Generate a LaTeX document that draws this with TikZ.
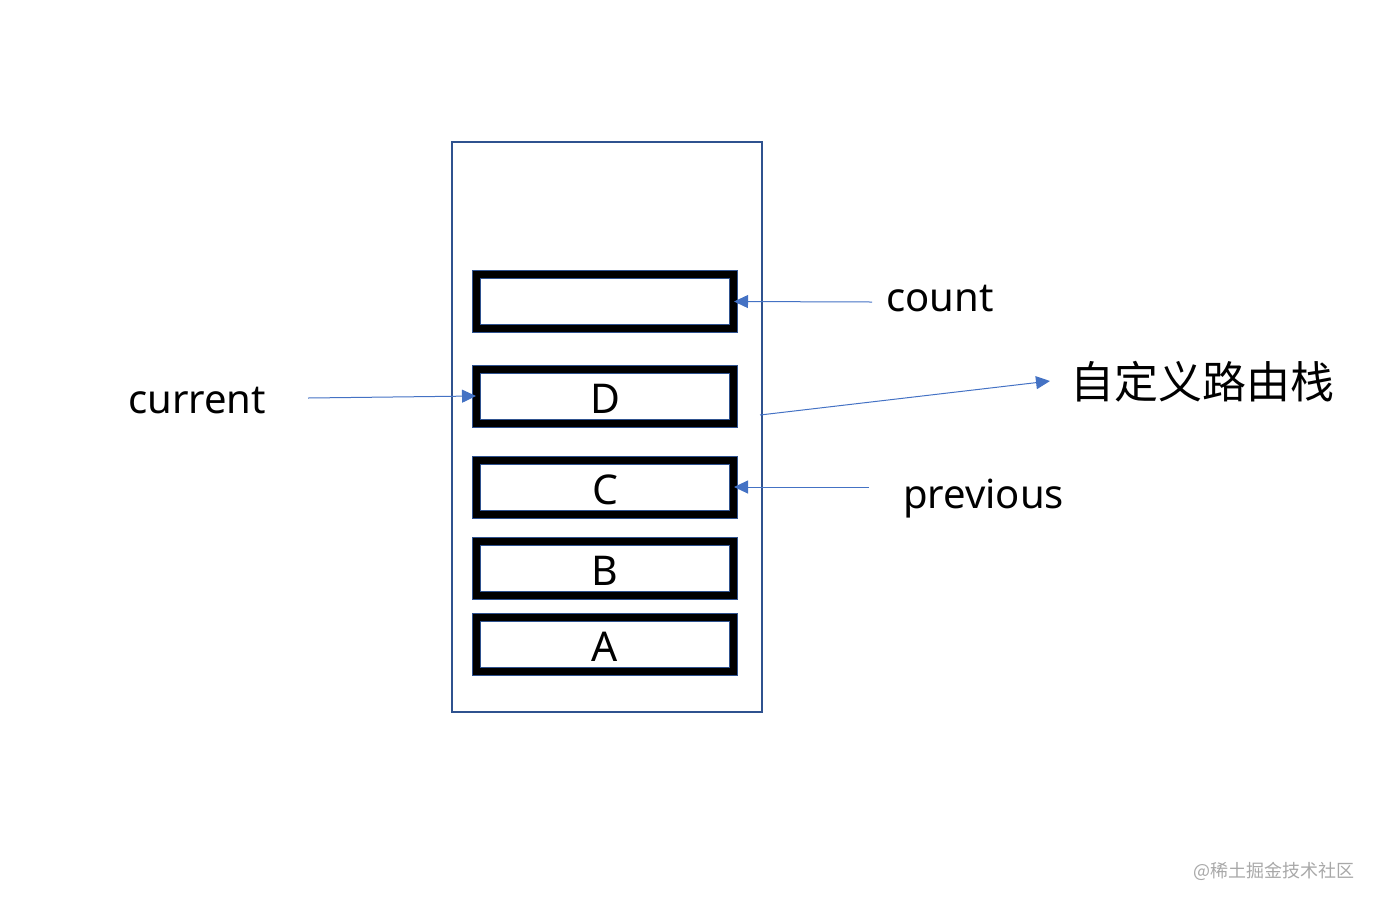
\documentclass[tikz,border=0pt]{standalone}
\usepackage{fontspec}
\setmainfont{Noto Sans}
\newfontfamily\cjk{Noto Sans CJK SC}
\usetikzlibrary{arrows.meta}
\definecolor{edgeblue}{HTML}{2F528F}
\definecolor{arrowblue}{HTML}{4472C4}
\definecolor{wmgrey}{HTML}{A8A8A8}
\newcommand{\celltext}[1]{\raisebox{-2.5pt}[29pt][0pt]{#1}}
\begin{document}
\begin{tikzpicture}[x=1pt,y=-1pt,
  cell/.style={draw=edgeblue, line width=1pt, double=black, double distance=7pt,
    fill=white, minimum width=257pt, minimum height=54pt, inner sep=0pt,
    font=\fontsize{41}{48}\selectfont},
  lbl/.style={inner sep=0pt, anchor=base west, font=\fontsize{40}{48}\selectfont},
  ptr/.style={draw=arrowblue, line width=1pt, -{Triangle[length=14pt,width=13pt]}}]
\useasboundingbox (0,0) rectangle (1380,906);
\node[draw=edgeblue, line width=2pt, minimum width=310pt, minimum height=570pt, inner sep=0pt] (stack) at (607,427) {};
\node[cell] (top) at (605,301.5) {};
\node[cell] (d) at (605,396) {\celltext{D}};
\node[cell] (c) at (605,487) {\celltext{C}};
\node[cell] (b) at (605,568) {\celltext{B}};
\node[cell] (a) at (605,644) {\celltext{A}};
\node[lbl] (count) at (886,311) {count};
\node[lbl] (current) at (128,413) {current};
\node[lbl] (previous) at (903,508) {previous};
\node[inner sep=0pt, anchor=west, font=\cjk\fontsize{44}{50}\selectfont] (name) at (1070,382) {自定义路由栈};
\node[inner sep=0pt, anchor=east, text=wmgrey, font=\cjk\fontsize{18}{20}\selectfont] (wm) at (1355,871) {@稀土掘金技术社区};
\coordinate (countS) at (872,302);
\coordinate (curS) at (308,398);
\coordinate (prevS) at (869,487);
\coordinate (stS) at (760,415);
\coordinate (stE) at (1050,381);
\draw[ptr] (countS) -- (top.east);
\draw[ptr] (curS) -- (d.west);
\draw[ptr] (prevS) -- (c.east);
\draw[ptr] (stS) -- (stE);
\end{tikzpicture}
\end{document}
